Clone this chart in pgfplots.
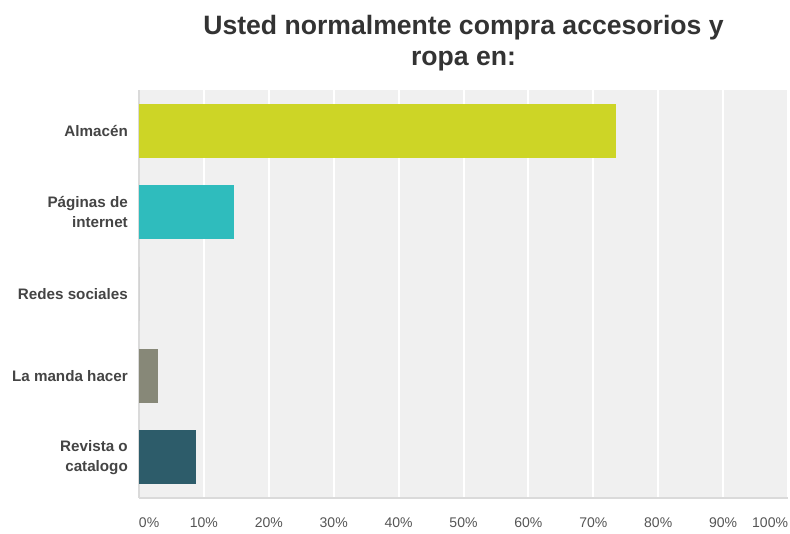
\documentclass[border=0pt]{standalone}
\usepackage{fontspec}
\setmainfont{Liberation Sans}
\usepackage{pgfplots}
\pgfplotsset{compat=1.18}

\definecolor{almacen}{HTML}{CDD526}
\definecolor{paginas}{HTML}{2FBCBD}
\definecolor{redes}{HTML}{9FA0A0}
\definecolor{manda}{HTML}{878878}
\definecolor{revista}{HTML}{2D5C6A}
\definecolor{plotbg}{HTML}{F0F0F0}
\definecolor{axisgray}{HTML}{DADADA}
\definecolor{titletext}{HTML}{333333}
\definecolor{labeltext}{HTML}{444444}
\definecolor{ticktext}{HTML}{555555}

\begin{document}
\begin{tikzpicture}
\useasboundingbox (0pt,0pt) rectangle (790pt,533pt);
\begin{axis}[
    at={(139pt,35pt)}, anchor=south west,
    scale only axis,
    width=649pt, height=408pt,
    xbar, bar width=54pt, bar shift=0pt,
    xmin=0, xmax=100,
    ymin=-0.5, ymax=4.5,
    xtick={0,10,...,100},
    xticklabels={\makebox[0pt][l]{0\%},10\%,20\%,30\%,40\%,50\%,60\%,70\%,80\%,90\%,\makebox[0pt][r]{100\%}},
    ytick={0,1,2,3,4},
    yticklabels={Revista o\\catalogo, La manda hacer, Redes sociales, Páginas de\\internet, Almacén},
    xmajorgrids,
    grid style={white, line width=2pt},
    axis background/.style={fill=plotbg},
    axis x line*=bottom, axis y line*=left,
    axis line style={draw=axisgray, line width=2pt},
    major tick length=0pt,
    xtick style={draw=none}, ytick style={draw=none},
    xticklabel style={font=\fontsize{14}{16}\selectfont, text=ticktext, inner sep=0pt, anchor=north, yshift=-20pt},
    yticklabel style={font=\bfseries\fontsize{15.2}{20}\selectfont, text=labeltext, align=right, inner sep=0pt, anchor=east, xshift=-11pt},
    title={Usted normalmente compra accesorios y\\ropa en:},
    title style={at={(0.5,1)}, anchor=south, inner sep=0pt, yshift=13pt, align=center,
        font=\bfseries\fontsize{26.6}{31}\selectfont, text=titletext},
]
\addplot[fill=almacen, draw=none] coordinates {(73.5,4)};
\addplot[fill=paginas, draw=none] coordinates {(14.7,3)};
\addplot[fill=redes, draw=none] coordinates {(0,2)};
\addplot[fill=manda, draw=none] coordinates {(2.9,1)};
\addplot[fill=revista, draw=none] coordinates {(8.8,0)};
\end{axis}
\end{tikzpicture}
\end{document}
